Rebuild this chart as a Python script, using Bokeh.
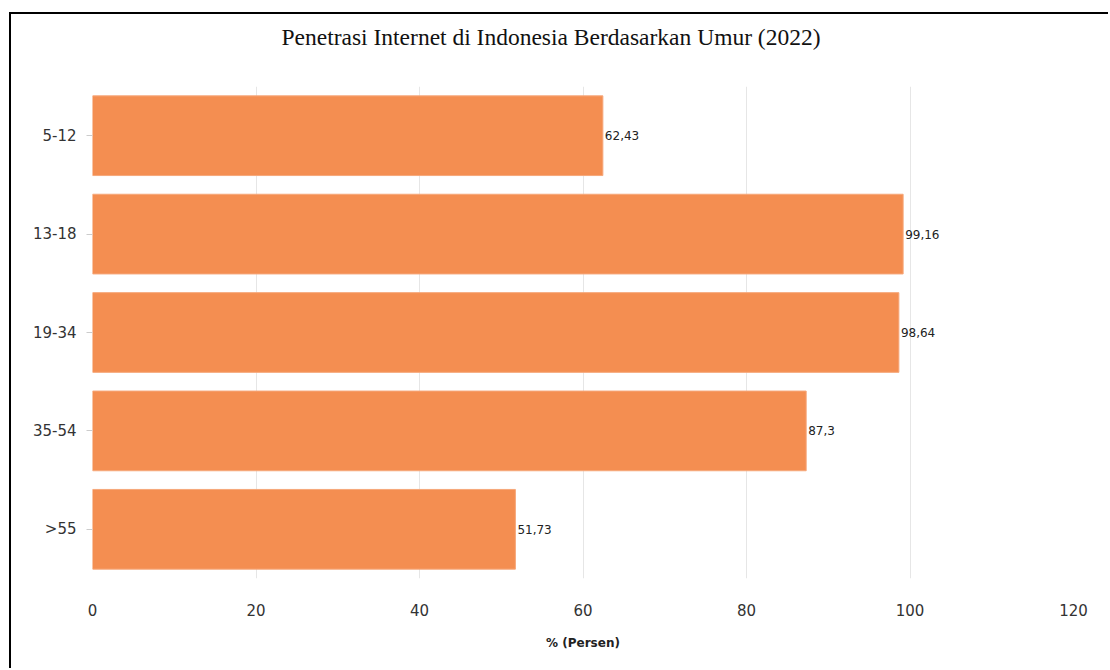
from bokeh.plotting import figure
from bokeh.models import ColumnDataSource, FactorRange, Range1d, Title, SingleIntervalTicker, LabelSet
from bokeh.core.properties import value
from bokeh.embed import file_html
from bokeh.resources import INLINE

title_text = "Penetrasi Internet di Indonesia Berdasarkan Umur (2022)"
categories = ["5-12", "13-18", "19-34", "35-54", ">55"]
values = [62.43, 99.16, 98.64, 87.3, 51.73]
value_labels = ["62,43", "99,16", "98,64", "87,3", "51,73"]

src = ColumnDataSource(dict(cat=categories, val=values, lab=value_labels))

p = figure(width=1099, height=656, output_backend="svg", toolbar_location=None,
           y_range=FactorRange(*categories[::-1], range_padding=0),
           x_range=Range1d(0, 120),
           min_border_left=81, min_border_right=37, min_border_top=72, min_border_bottom=92)
p.margin = (12, 0, 0, 9)
p.styles = {"border-top": "2px solid #000", "border-left": "2px solid #000"}
p.outline_line_color = None

p.hbar(y="cat", right="val", left=0, height=0.81, source=src,
       fill_color="#f48e51", line_color="#f6a77a", line_width=1)

labels = LabelSet(x="val", y="cat", text="lab", source=src, x_offset=2,
                  text_baseline="middle", text_font_size="12px",
                  text_font=value("DejaVu Sans"), text_color="#222222")
p.add_layout(labels)

p.title = Title(text=title_text, align="left",
                text_font="Liberation Serif", text_font_size="23.5px",
                text_font_style="normal", text_color="#111111", offset=189,
                standoff=0)
# blank spacer between the title and the plot area
p.add_layout(Title(text=" ", text_font_size="16px", standoff=18), "above")

p.xaxis.ticker = SingleIntervalTicker(interval=20)
p.xaxis.axis_line_color = None
p.xaxis.major_tick_line_color = None
p.xaxis.minor_tick_line_color = None
p.xaxis.major_label_text_font = "DejaVu Sans"
p.xaxis.major_label_text_font_size = "15px"
p.xaxis.major_label_text_color = "#333333"
p.xaxis.major_label_standoff = 19
p.xaxis.axis_label = "% (Persen)"
p.xaxis.axis_label_text_font = "DejaVu Sans"
p.xaxis.axis_label_text_font_size = "12px"
p.xaxis.axis_label_text_font_style = "bold"
p.xaxis.axis_label_text_color = "#222222"
p.xaxis.axis_label_standoff = 17

p.yaxis.axis_line_color = None
p.yaxis.major_tick_line_color = "#cccccc"
p.yaxis.major_tick_out = 6
p.yaxis.major_tick_in = 0
p.yaxis.major_label_text_font = "DejaVu Sans"
p.yaxis.major_label_text_font_size = "15px"
p.yaxis.major_label_text_color = "#333333"
p.yaxis.major_label_standoff = 10

p.ygrid.grid_line_color = None
p.xgrid.grid_line_color = "#e6e6e6"

open("out.html", "w").write(file_html(p, INLINE))
